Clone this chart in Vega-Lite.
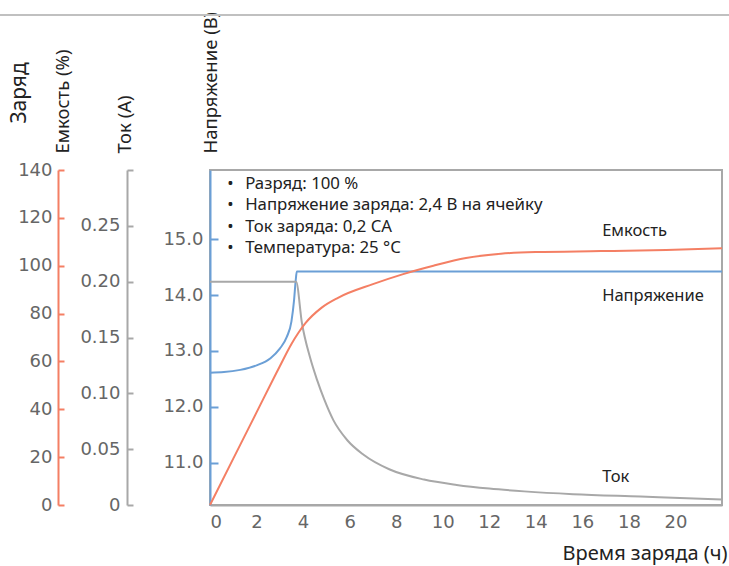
{
  "$schema": "https://vega.github.io/schema/vega-lite/v6.json",
  "autosize": "none",
  "width": 512,
  "height": 335,
  "padding": {"left": 210, "top": 170, "right": 7, "bottom": 61},
  "background": "white",
  "config": {
    "view": {"stroke": "#a8a8a8", "strokeWidth": 2},
    "font": "Noto Sans",
    "axis": {
      "grid": false,
      "labelFont": "DejaVu Sans",
      "labelFontSize": 18,
      "labelColor": "#666666",
      "titleFont": "Noto Sans",
      "titleFontWeight": "normal",
      "titleFontSize": 18.5,
      "titleColor": "#222222"
    }
  },
  "encoding": {
    "x": {
      "field": "h",
      "type": "quantitative",
      "scale": {"domain": [0, 22], "nice": false, "zero": false},
      "axis": {
        "values": [0, 2, 4, 6, 8, 10, 12, 14, 16, 18, 20],
        "ticks": false,
        "domainColor": "#a8a8a8",
        "domainWidth": 2,
        "labelPadding": 8,
        "title": "Время заряда (ч)",
        "titleFontSize": 20,
        "titleX": 517,
        "titleY": 54,
        "titleAlign": "right",
        "titleBaseline": "alphabetic"
      }
    }
  },
  "layer": [
    {
      "data": {"values": [
        {"h": 0, "v": 12.61},
        {"h": 0.6, "v": 12.62},
        {"h": 1.3, "v": 12.66},
        {"h": 2.0, "v": 12.74},
        {"h": 2.6, "v": 12.87},
        {"h": 3.0, "v": 13.04},
        {"h": 3.3, "v": 13.25},
        {"h": 3.5, "v": 13.53},
        {"h": 3.61, "v": 13.9},
        {"h": 3.68, "v": 14.25},
        {"h": 3.73, "v": 14.42},
        {"h": 22, "v": 14.42}
      ]},
      "encoding": {
        "y": {
          "field": "v",
          "type": "quantitative",
          "scale": {"domain": [10.24, 16.24], "nice": false, "zero": false},
          "axis": {
            "orient": "left",
            "offset": 0,
            "values": [11, 12, 13, 14, 15],
            "format": ".1f",
            "domainColor": "#6b9fd6",
            "domainWidth": 2,
            "tickColor": "#6b9fd6",
            "tickWidth": 2,
            "tickSize": -8,
            "labelPadding": 15,
            "title": "Напряжение (В)",
            "titleAngle": 270,
            "titleAlign": "left",
            "titleBaseline": "alphabetic",
            "titleX": 6,
            "titleY": -17
          }
        }
      },
      "layer": [
        {
          "mark": {"type": "line", "color": "#6b9fd6", "strokeWidth": 2, "interpolate": "monotone"}
        },
        {
          "mark": {"type": "rule", "color": "#c0c0c0", "strokeWidth": 1.5, "clip": false},
          "encoding": {
            "x": {"datum": -9.03, "type": "quantitative"},
            "x2": {"datum": 22.31},
            "y": {"datum": 19.01, "type": "quantitative"}
          }
        }
      ]
    },
    {
      "data": {"values": [
        {"h": 0, "a": 0.2},
        {"h": 3.7, "a": 0.2},
        {"h": 3.95, "a": 0.163},
        {"h": 4.3, "a": 0.132},
        {"h": 4.6, "a": 0.112},
        {"h": 4.9, "a": 0.095},
        {"h": 5.3, "a": 0.076},
        {"h": 5.9, "a": 0.058},
        {"h": 6.6, "a": 0.045},
        {"h": 7.7, "a": 0.032},
        {"h": 9.2, "a": 0.0228},
        {"h": 10.6, "a": 0.018},
        {"h": 12.0, "a": 0.0147},
        {"h": 13.5, "a": 0.0122},
        {"h": 15.6, "a": 0.0097},
        {"h": 18.5, "a": 0.0076},
        {"h": 22, "a": 0.005}
      ]},
      "mark": {"type": "line", "color": "#a8a8a8", "strokeWidth": 2, "interpolate": "monotone"},
      "encoding": {
        "y": {
          "field": "a",
          "type": "quantitative",
          "scale": {"domain": [0, 0.3], "nice": false},
          "axis": {
            "orient": "left",
            "offset": 83,
            "values": [0, 0.05, 0.1, 0.15, 0.2, 0.25, 0.3],
            "labelExpr": "datum.value == 0 ? '0' : (datum.value > 0.28 ? '' : format(datum.value, '.2f'))",
            "domainColor": "#a8a8a8",
            "domainWidth": 2,
            "tickColor": "#a8a8a8",
            "tickWidth": 2,
            "tickSize": -6,
            "labelPadding": 13,
            "title": "Ток (А)",
            "titleAngle": 270,
            "titleAlign": "left",
            "titleBaseline": "alphabetic",
            "titleX": 3,
            "titleY": -17
          }
        }
      }
    },
    {
      "data": {"values": [
        {"h": 0, "c": 0},
        {"h": 1.0, "c": 19.4},
        {"h": 2.0, "c": 38.7},
        {"h": 3.0, "c": 58},
        {"h": 3.5, "c": 67.3},
        {"h": 3.8, "c": 72},
        {"h": 4.1, "c": 76},
        {"h": 4.8, "c": 82.5},
        {"h": 5.5, "c": 86.6},
        {"h": 7.0, "c": 92.3},
        {"h": 8.3, "c": 96.5},
        {"h": 9.6, "c": 100.0},
        {"h": 11.0, "c": 103.2},
        {"h": 12.5, "c": 105},
        {"h": 14.0, "c": 105.7},
        {"h": 16.8, "c": 106.1},
        {"h": 19.6, "c": 106.6},
        {"h": 22, "c": 107.3}
      ]},
      "mark": {"type": "line", "color": "#f47f64", "strokeWidth": 2, "interpolate": "monotone"},
      "encoding": {
        "y": {
          "field": "c",
          "type": "quantitative",
          "scale": {"domain": [0, 140], "nice": false},
          "axis": {
            "orient": "left",
            "offset": 152,
            "values": [0, 20, 40, 60, 80, 100, 120, 140],
            "domainColor": "#f47f64",
            "domainWidth": 2,
            "tickColor": "#f47f64",
            "tickWidth": 2,
            "tickSize": -6,
            "labelPadding": 12,
            "title": "Емкость (%)",
            "titleAngle": 270,
            "titleAlign": "left",
            "titleBaseline": "alphabetic",
            "titleX": 10,
            "titleY": -17
          }
        }
      }
    },
    {
      "data": {"values": [
        {"h": 16.85, "v": 15.15, "t": "Емкость"},
        {"h": 16.85, "v": 13.98, "t": "Напряжение"},
        {"h": 16.85, "v": 10.74, "t": "Ток"}
      ]},
      "mark": {"type": "text", "align": "left", "baseline": "middle", "fontSize": 16.5, "color": "#222222", "font": "Noto Sans"},
      "encoding": {
        "text": {"field": "t"},
        "y": {
          "field": "v",
          "type": "quantitative",
          "scale": {"domain": [10.24, 16.24], "nice": false, "zero": false},
          "axis": {
            "orient": "left",
            "offset": 0,
            "labels": false,
            "ticks": false,
            "domain": false,
            "title": "Заряд",
            "titleFontSize": 21,
            "titleAngle": 270,
            "titleAlign": "left",
            "titleBaseline": "alphabetic",
            "titleX": -185,
            "titleY": -47
          }
        }
      }
    },
    {
      "data": {"values": [
        {"h": 1.51, "v": 15.99, "t": "Разряд: 100 %"},
        {"h": 1.51, "v": 15.61, "t": "Напряжение заряда: 2,4 В на ячейку"},
        {"h": 1.51, "v": 15.22, "t": "Ток заряда: 0,2 CA"},
        {"h": 1.51, "v": 14.84, "t": "Температура: 25 °C"}
      ]},
      "encoding": {
        "y": {
          "field": "v",
          "type": "quantitative",
          "scale": {"domain": [10.24, 16.24], "nice": false, "zero": false},
          "axis": null
        }
      },
      "layer": [
        {
          "mark": {"type": "text", "align": "left", "baseline": "middle", "fontSize": 16.8, "color": "#222222", "font": "Noto Sans"},
          "encoding": {"text": {"field": "t"}}
        },
        {
          "mark": {"type": "text", "align": "left", "baseline": "middle", "fontSize": 16.8, "color": "#222222", "font": "Noto Sans", "dx": -18, "text": "•"},
          "encoding": {}
        }
      ]
    }
  ],
  "resolve": {"scale": {"y": "independent"}}
}
